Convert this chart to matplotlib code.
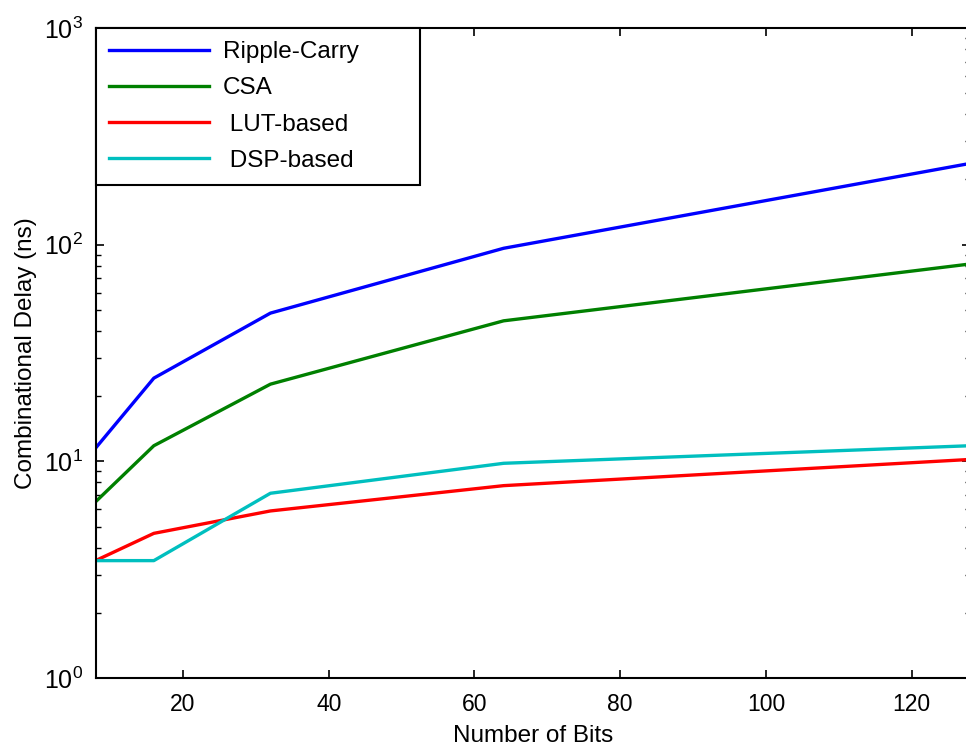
import matplotlib
matplotlib.use("Agg")
import matplotlib.pyplot as plt
from matplotlib.ticker import LogLocator, NullFormatter, MultipleLocator

plt.rcParams['font.family'] = ['Liberation Sans', 'DejaVu Sans']
plt.rcParams['mathtext.fontset'] = 'custom'
plt.rcParams['mathtext.rm'] = 'Liberation Sans'

# number of bits on x axis
bits = [8, 16, 32, 64, 128]

# combinational delay (ns)
ripple_carry = [11.5, 24.2, 48.3, 96.2, 237]
csa = [6.5, 11.8, 22.7, 44.5, 81.4]
lut_based = [3.48, 4.65, 5.9, 7.72, 10.2]
dsp_based = [3.48, 3.48, 7.12, 9.79, 11.8]

labels = ["Ripple-Carry", "CSA", " LUT-based", " DSP-based"]
colors = ["#0000FF", "#008000", "#FF0000", "#00BFBF"]

fig = plt.figure(figsize=(9.66, 7.46), dpi=100)
ax = fig.add_axes([0.0989, 0.0912, 0.9052, 0.8713])

for y, lab, c in zip([ripple_carry, csa, lut_based, dsp_based], labels, colors):
    ax.plot(bits, y, color=c, lw=2.4, label=lab)

ax.set_yscale('log')
ax.set_xlim(8, 128)
ax.set_ylim(1, 1000)
ax.xaxis.set_major_locator(MultipleLocator(20))
ax.yaxis.set_major_locator(LogLocator(base=10))
ax.yaxis.set_minor_locator(LogLocator(base=10, subs=range(2, 10)))
ax.yaxis.set_minor_formatter(NullFormatter())

ax.tick_params(which='both', direction='in', top=True, right=True)
ax.tick_params(which='major', length=6, width=1.2)
ax.tick_params(which='minor', length=3.5, width=1.0)
ax.tick_params(axis='x', labelsize=16.5, pad=11)
ax.tick_params(axis='y', labelsize=18, pad=9)
for s in ax.spines.values():
    s.set_linewidth(1.5)

ax.set_xlabel("Number of Bits", fontsize=17.5, labelpad=6)
ax.set_ylabel("Combinational Delay (ns)", fontsize=17.5, labelpad=5)

# legend frame is wider than its text, like the original
leg = ax.legend(loc='upper left', bbox_to_anchor=(0, 1, 0.3705, 0), mode='expand',
                borderaxespad=0, fancybox=False, framealpha=1, edgecolor='black',
                fontsize=17.5, handlelength=4.1, labelspacing=0.58,
                handletextpad=0.58, borderpad=0.55)
leg.get_frame().set_linewidth(1.5)

fig.savefig("out.png", dpi=100)
